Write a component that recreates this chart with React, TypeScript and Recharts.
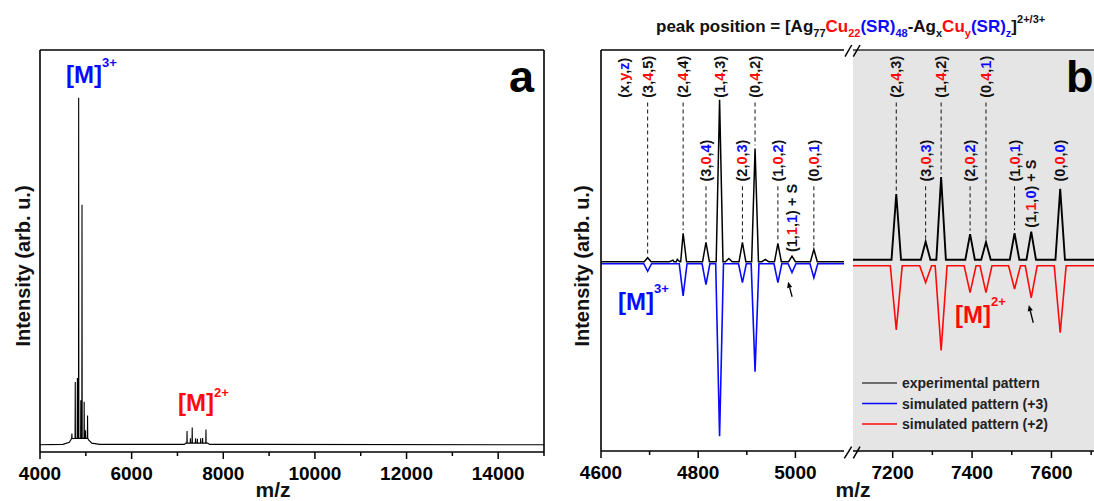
import React from "react";
import { CartesianGrid, Line, LineChart, ReferenceDot, ReferenceLine, XAxis, YAxis } from "recharts";

const FONT = '"Liberation Sans", Arial, Helvetica, sans-serif';
const BLUE = "#0a0aff";
const RED = "#ff0a0a";
const INK = "#111";

// peak centres (m/z) of the two charge states
const mz3 = [4696, 4769, 4816, 4844, 4891, 4917, 4964, 4993, 5038];
const mz2 = [7209, 7283, 7322, 7395, 7435, 7507, 7549, 7622];

// assignments (x,y,z) for every peak, and whether z is drawn blue
const tags3 = ["3,4,5", "2,4,4", "3,0,4", "1,4,3", "2,0,3", "0,4,2", "1,0,2", "1,1,1", "0,0,1"];
const zBlue3 = [false, false, true, false, true, false, true, true, true];
const tags2 = ["2,4,3", "3,0,3", "1,4,2", "2,0,2", "0,4,1", "1,0,1", "1,1,0", "0,0,0"];
const zBlue2 = [false, true, false, true, true, true, true, true];

// panel a: overview spectrum (relative intensity)
const overviewBase = [
  [4000, 1.8], [4500, 1.9], [4640, 2.4], [4730, 3.3], [5060, 3.0], [5130, 2.2], [5300, 1.9],
  [7150, 1.9], [7180, 2.2], [7660, 2.2], [7700, 1.9], [15000, 1.8],
];
const overviewH3 = [4.6, 17.4, 18.4, 88.1, 12.9, 61.5, 12.5, 5.4, 9.1];
const overviewH2 = [5.2, 3.4, 6.1, 3.4, 3.3, 3.4, 3.5, 5.6];

// panel b: zoomed experimental (up) and simulated (down) patterns
const expBase3 = 0.2;
const expH3 = [1.2, 7.3, 5.0, 40.6, 5.0, 28.4, 4.8, 1.6, 3.3];
const expMinorMz3 = [4748, 4757, 4863, 4938];
const expMinorH3 = [0.6, 0.8, 1.0, 0.8];
const simBase3 = -0.3;
const simH3 = [-2.2, -8.3, -5.5, -43.3, -5.0, -27.2, -5.0, -2.5, -3.8];
const expBase2 = 0.7;
const expH2 = [17.1, 5.2, 21.3, 7.1, 5.1, 7.3, 7.7, 18.4];
const simBase2 = -0.8;
const simH2 = [-16.8, -5.0, -21.9, -7.5, -7.5, -6.6, -8.8, -17.5];

const ticksA = [4000, 5000, 6000, 7000, 8000, 9000, 10000, 11000, 12000, 13000, 14000, 15000];
const majorA = [4000, 6000, 8000, 10000, 12000, 14000];
const ticksB1 = [4600, 4700, 4800, 4900, 5000];
const majorB1 = [4600, 4800, 5000];
const ticksB2 = [7200, 7300, 7400, 7500, 7600, 7700];
const majorB2 = [7200, 7400, 7600];

const legendItems = [
  { name: "experimental pattern", color: "#444" },
  { name: "simulated pattern (+3)", color: BLUE },
  { name: "simulated pattern (+2)", color: RED },
];

type Pt = { mz: number; v: number };

function trace(ends: number[][], centres: number[], heights: number[], foot: number, half: number): Pt[] {
  const pts: Pt[] = ends.map(([mz, v]) => ({ mz, v }));
  centres.forEach((c, i) => {
    pts.push({ mz: c - half, v: foot }, { mz: c, v: heights[i] }, { mz: c + half, v: foot });
  });
  return pts.sort((a, b) => a.mz - b.mz);
}

const overviewAll = trace(overviewBase, mz3, overviewH3, 3.4, 4)
  .concat(trace([], mz2, overviewH2, 2.2, 4))
  .sort((a, b) => a.mz - b.mz);

const expLeft = trace([[4600, expBase3], [5100, expBase3]], mz3.concat(expMinorMz3), expH3.concat(expMinorH3), expBase3, 7);
const simLeft = trace([[4600, simBase3], [5100, simBase3]], mz3, simH3, simBase3, 8);
const expRight = trace([[7100, expBase2], [7750, expBase2]], mz2, expH2, expBase2, 12);
const simRight = trace([[7100, simBase2], [7750, simBase2]], mz2, simH2, simBase2, 15);

const AXIS = { stroke: "#000", strokeWidth: 1.6 };
const ROW_HIGH = 41.1;
const ROW_LOW = 20.2;

const makeTick = (majors: number[]) => (p: any) => {
  const { x, y, payload } = p;
  const major = majors.includes(payload.value);
  return (
    <g>
      <line x1={x} x2={x} y1={y} y2={y + (major ? 7 : 4)} stroke="#000" strokeWidth={1.5} />
      {major && (
        <text x={x} y={y + 28} textAnchor="middle" fontFamily={FONT} fontWeight="bold" fontSize={19} fill="#000">
          {payload.value}
        </text>
      )}
    </g>
  );
};

const tagShape = (tag: string, zBlue: boolean, suffix: string) => (p: any) => {
  const { cx, cy } = p;
  const [a, b, c] = tag.split(",");
  return (
    <text x={cx} y={cy} transform={`rotate(-90 ${cx} ${cy})`} dominantBaseline="central"
      fontFamily={FONT} fontWeight="bold" fontSize={14.5} fill={INK}>
      (<tspan>{a}</tspan>,<tspan fill={RED}>{b}</tspan>,<tspan fill={zBlue ? BLUE : INK}>{c}</tspan>){suffix}
    </text>
  );
};

const arrowShape = (dx: number, dy: number) => (p: any) => {
  const { cx, cy } = p;
  const len = Math.hypot(dx, dy);
  const ux = dx / len, uy = dy / len;
  const bx = cx + ux * 6, by = cy + uy * 6;
  return (
    <g>
      <line x1={cx + dx} y1={cy + dy} x2={bx} y2={by} stroke="#000" strokeWidth={1.3} />
      <polygon points={`${cx},${cy} ${bx - uy * 2.6},${by + ux * 2.6} ${bx + uy * 2.6},${by - ux * 2.6}`} fill="#000" />
    </g>
  );
};

function peakMarks(centres: number[], tags: string[], zBlue: boolean[], heights: number[]) {
  const out: React.ReactNode[] = [];
  centres.forEach((c, i) => {
    const y = tags[i].split(",")[1];
    const plusS = y === "1";
    const bottom = plusS ? heights[i] + 1.0 : y === "4" ? ROW_HIGH : ROW_LOW;
    const top = bottom - 1.2;
    const end = heights[i] + 0.8;
    if (!plusS && top - end > 1) {
      out.push(
        <ReferenceLine key={`d${c}`} segment={[{ x: c, y: top }, { x: c, y: end }]}
          stroke="#111" strokeWidth={1} strokeDasharray="4 3" />
      );
    }
    out.push(
      <ReferenceDot key={`t${c}`} x={c} y={bottom} r={2} shape={tagShape(tags[i], zBlue[i], plusS ? " + S" : "")} />
    );
  });
  return out;
}

function PanelA() {
  return (
    <LineChart width={560} height={501} margin={{ top: 49, right: 15, bottom: 0, left: 0 }}>
      <XAxis dataKey="mz" type="number" domain={[4000, 15000]} ticks={ticksA} interval={0} height={49}
        tickSize={0} tickMargin={0} tickLine={false} tick={makeTick(majorA)} axisLine={AXIS} allowDataOverflow />
      <XAxis xAxisId="top" orientation="top" dataKey="mz" type="number" domain={[4000, 15000]} height={1}
        tick={false} tickLine={false} axisLine={AXIS} />
      <YAxis type="number" domain={[0, 100]} width={40} tick={false} tickLine={false} axisLine={AXIS} />
      <YAxis yAxisId="r" orientation="right" type="number" domain={[0, 100]} width={1} tick={false} tickLine={false} axisLine={AXIS} />
      <Line data={overviewAll} dataKey="v" stroke="#000" strokeWidth={1.1} dot={false} isAnimationActive={false} />
    </LineChart>
  );
}

function PanelB1() {
  return (
    <LineChart width={290} height={501} margin={{ top: 49, right: 6, bottom: 0, left: 0 }}>
      <XAxis dataKey="mz" type="number" domain={[4600, 5100]} ticks={ticksB1} interval={0} height={50}
        tickSize={0} tickMargin={0} tickLine={false} tick={makeTick(majorB1)} axisLine={AXIS} allowDataOverflow />
      <XAxis xAxisId="top" orientation="top" dataKey="mz" type="number" domain={[4600, 5100]} height={1}
        tick={false} tickLine={false} axisLine={AXIS} />
      <YAxis type="number" domain={[-47, 53]} width={41} tick={false} tickLine={false} axisLine={AXIS} />
      <Line data={simLeft} dataKey="v" stroke={BLUE} strokeWidth={1.6} dot={false} isAnimationActive={false} />
      <Line data={expLeft} dataKey="v" stroke="#000" strokeWidth={1.5} dot={false} isAnimationActive={false} />
      {peakMarks(mz3, tags3, zBlue3, expH3)}
      <ReferenceDot x={4648} y={ROW_HIGH} r={2} shape={tagShape("x,y,z", true, "")} />
      <ReferenceDot x={4985} y={-4.8} r={2} shape={arrowShape(4, 15)} />
    </LineChart>
  );
}

function PanelB2() {
  return (
    <LineChart width={258} height={501} margin={{ top: 49, right: 0, bottom: 0, left: 0 }}>
      <CartesianGrid fill="#e5e5e5" horizontal={false} vertical={false} />
      <XAxis dataKey="mz" type="number" domain={[7100, 7750]} ticks={ticksB2} interval={0} height={50}
        tickSize={0} tickMargin={0} tickLine={false} tick={makeTick(majorB2)} axisLine={AXIS} allowDataOverflow />
      <XAxis xAxisId="top" orientation="top" dataKey="mz" type="number" domain={[7100, 7750]} height={1}
        tick={false} tickLine={false} axisLine={{ stroke: "#333", strokeWidth: 1.6 }} />
      <YAxis hide type="number" domain={[-47, 53]} />
      <Line data={simRight} dataKey="v" stroke={RED} strokeWidth={1.6} dot={false} isAnimationActive={false} />
      <Line data={expRight} dataKey="v" stroke="#000" strokeWidth={1.9} dot={false} isAnimationActive={false} />
      {peakMarks(mz2, tags2, zBlue2, expH2)}
      <ReferenceDot x={7543} y={-10.6} r={2} shape={arrowShape(4.4, 17.7)} />
    </LineChart>
  );
}

function Overlay() {
  const sub = { dy: 5, fontSize: 11 };
  return (
    <svg width={1094} height={501} style={{ position: "absolute", left: 0, top: 0, pointerEvents: "none" }}
      fontFamily={FONT} fontWeight="bold">
      <text x={656} y={32} fontSize={17} fill={INK}>
        peak position = [Ag<tspan {...sub}>77</tspan>
        <tspan dy={-5} fill={RED}>Cu</tspan><tspan {...sub} fill={RED}>22</tspan>
        <tspan dy={-5} fill={BLUE}>(SR)</tspan><tspan {...sub} fill={BLUE}>48</tspan>
        <tspan dy={-5}>-Ag</tspan><tspan {...sub}>x</tspan>
        <tspan dy={-5} fill={RED}>Cu</tspan><tspan {...sub} fill={RED}>y</tspan>
        <tspan dy={-5} fill={BLUE}>(SR)</tspan><tspan {...sub} fill={BLUE}>z</tspan>
        <tspan dy={-5}>]</tspan><tspan dy={-9} fontSize={11}>2+/3+</tspan>
      </text>

      <text x={23} y={266} transform="rotate(-90 23 266)" textAnchor="middle" dominantBaseline="central" fontSize={20} fill={INK}>
        Intensity (arb. u.)
      </text>
      <text x={582} y={266} transform="rotate(-90 582 266)" textAnchor="middle" dominantBaseline="central" fontSize={20} fill={INK}>
        Intensity (arb. u.)
      </text>
      <text x={273} y={497} textAnchor="middle" fontSize={21} fill={INK}>m/z</text>
      <text x={853} y={497} textAnchor="middle" fontSize={21} fill={INK}>m/z</text>

      <text x={509} y={92} fontSize={45} fill="#000">a</text>
      <text x={1066} y={92} fontSize={45} fill="#000">b</text>

      <text x={66} y={83} fontSize={24} fill={BLUE}>[M]<tspan dy={-16} fontSize={13}>3+</tspan></text>
      <text x={178} y={411} fontSize={24} fill={RED}>[M]<tspan dy={-14} fontSize={13}>2+</tspan></text>
      <text x={618} y={310} fontSize={24} fill={BLUE}>[M]<tspan dy={-17} fontSize={13}>3+</tspan></text>
      <text x={955} y={323} fontSize={24} fill={RED}>[M]<tspan dy={-17} fontSize={13}>2+</tspan></text>

      {legendItems.map((it, i) => (
        <g key={it.name}>
          <line x1={862} x2={897} y1={383 + i * 20.5} y2={383 + i * 20.5} stroke={it.color} strokeWidth={1.5} />
          <text x={902} y={388 + i * 20.5} fontSize={14} fill="#222">{it.name}</text>
        </g>
      ))}

      <g stroke="#000" strokeWidth={1.5}>
        <line x1={845} y1={56.7} x2={851.7} y2={45} />
        <line x1={853.3} y1={56.7} x2={860} y2={45} />
        <line x1={844.3} y1={458.3} x2={851.7} y2={446.7} />
        <line x1={853.3} y1={458.3} x2={860} y2={446.7} />
      </g>
    </svg>
  );
}

export default function App() {
  return (
    <div style={{ position: "fixed", left: 0, top: 0, width: 1094, height: 501, overflow: "hidden", background: "#fff" }}>
      <div style={{ position: "absolute", left: 0, top: 0 }}><PanelA /></div>
      <div style={{ position: "absolute", left: 560, top: 0 }}><PanelB1 /></div>
      <div style={{ position: "absolute", left: 853, top: 0 }}><PanelB2 /></div>
      <Overlay />
    </div>
  );
}
